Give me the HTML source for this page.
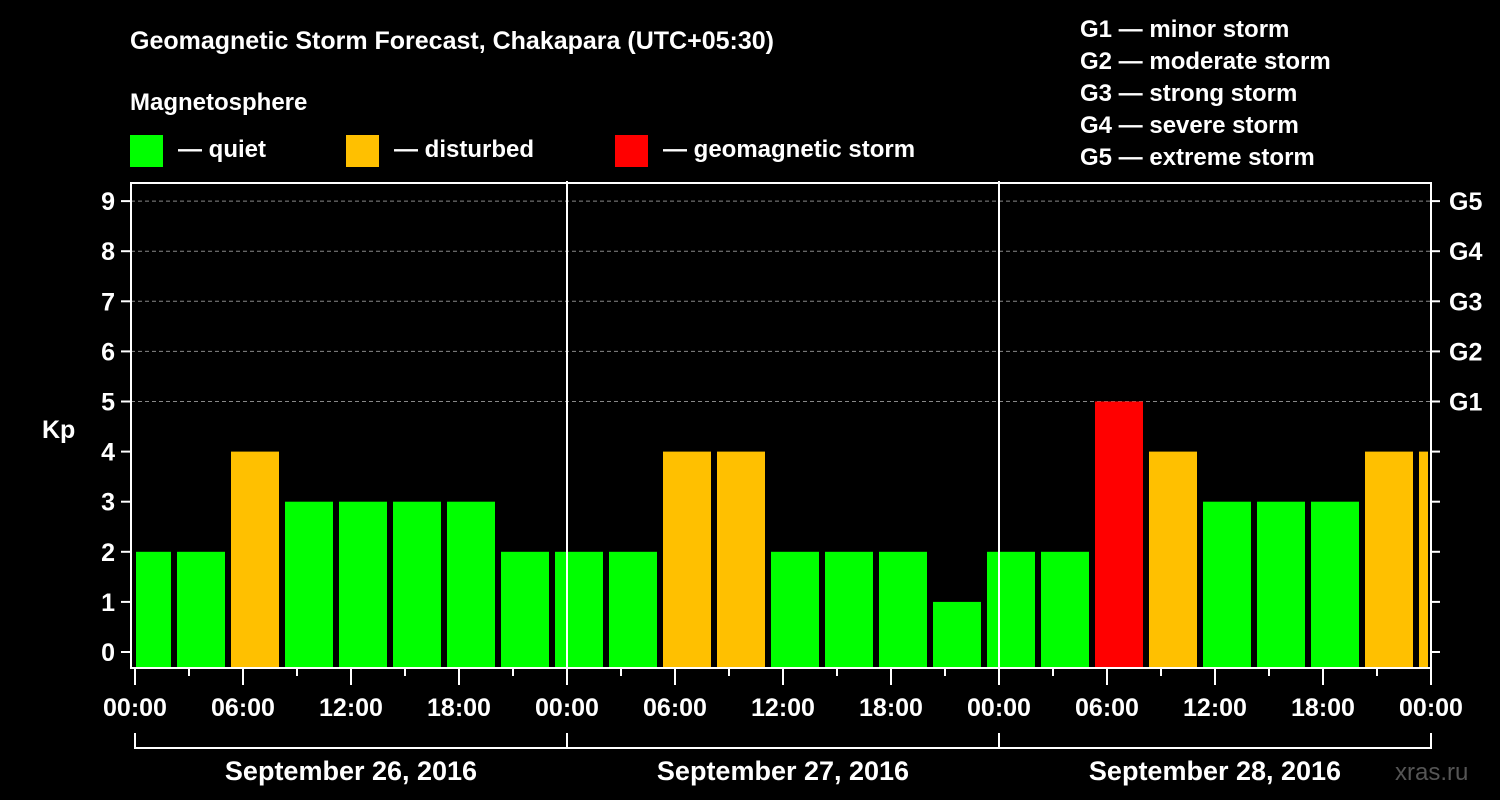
<!DOCTYPE html>
<html><head><meta charset="utf-8"><style>
html,body{margin:0;padding:0;background:#000;}
svg{display:block;font-family:"Liberation Sans",Arial,sans-serif;font-weight:bold;}
</style></head><body>
<svg id="chart" width="1500" height="800" viewBox="0 0 1500 800" xmlns="http://www.w3.org/2000/svg">
<rect width="1500" height="800" fill="#000"/>
<text x="130" y="49" fill="#fff" font-size="25">Geomagnetic Storm Forecast, Chakapara (UTC+05:30)</text>
<text x="130" y="110" fill="#fff" font-size="24">Magnetosphere</text>
<g><rect x="130" y="135" width="33" height="32" fill="#00ff00"/><text x="178" y="157" fill="#fff" font-size="24">— quiet</text></g>
<g><rect x="346" y="135" width="33" height="32" fill="#ffc000"/><text x="394" y="157" fill="#fff" font-size="24">— disturbed</text></g>
<g><rect x="615" y="135" width="33" height="32" fill="#ff0000"/><text x="663" y="157" fill="#fff" font-size="24">— geomagnetic storm</text></g>
<g fill="#fff" font-size="24">
<text x="1080" y="37">G1 — minor storm</text>
<text x="1080" y="69">G2 — moderate storm</text>
<text x="1080" y="101">G3 — strong storm</text>
<text x="1080" y="133">G4 — severe storm</text>
<text x="1080" y="165">G5 — extreme storm</text>
</g>
<text x="42" y="438" fill="#fff" font-size="25">Kp</text>
<g id="grid"></g>
<g id="bars"></g>
<g id="axes"></g>
<text x="1395" y="780" fill="#555" font-size="24" font-weight="normal">xras.ru</text>
</svg>
<script>
const kpValues = [2,2,4,3,3,3,3,2,2,2,4,4,2,2,2,1,2,2,5,4,3,3,3,4,4];
const firstBarHour = -0.8333;
const barStepHours = 3;
const yTicks = [0,1,2,3,4,5,6,7,8,9];
const gLabels = ["G1","G2","G3","G4","G5"];
const xTickLabels = ["00:00","06:00","12:00","18:00","00:00","06:00","12:00","18:00","00:00","06:00","12:00","18:00","00:00"];
const dayLabels = ["September 26, 2016","September 27, 2016","September 28, 2016"];

const NS="http://www.w3.org/2000/svg";
const X0=135, PX_H=18, LEFT=131, RIGHT=1431, TOP=183, BOTTOM=668;
const xs=h=>X0+h*PX_H;
const ys=v=>652-v*50.1;
function mk(parent,tag,attrs){const e=document.createElementNS(NS,tag);for(const k in attrs)e.setAttribute(k,attrs[k]);document.getElementById(parent).appendChild(e);return e;}

// grid lines (only visible above bars 5..9)
yTicks.filter(v=>v>=5).forEach(v=>{
 const l=mk('grid','line',{x1:LEFT,x2:RIGHT,y1:ys(v),y2:ys(v),stroke:'#888','stroke-dasharray':'4,3','stroke-width':1});
 
 
});
// bars
kpValues.forEach((v,i)=>{
 let x1=xs(firstBarHour+i*barStepHours)+3, x2=x1+48;
 x1=Math.max(x1,LEFT+5); x2=Math.min(x2,RIGHT-3);
 const c=v>=5?'#ff0000':(v>=4?'#ffc000':'#00ff00');
 const r=mk('bars','rect',{x:x1,y:ys(v),width:x2-x1,height:BOTTOM-ys(v),fill:c});
 
 
});
// frame & day separators
const f=mk('axes','rect',{x:LEFT,y:TOP,width:RIGHT-LEFT,height:BOTTOM-TOP,fill:'none',stroke:'#fff','stroke-width':2});


[24,48].forEach(h=>{
 const l=mk('axes','line',{x1:xs(h),x2:xs(h),y1:TOP-2,y2:BOTTOM,stroke:'#fff','stroke-width':2});
 
 
});
// y ticks
yTicks.forEach(v=>{
 mk('axes','line',{x1:LEFT-10,x2:LEFT,y1:ys(v),y2:ys(v),stroke:'#fff','stroke-width':2});
 mk('axes','line',{x1:RIGHT,x2:RIGHT+9,y1:ys(v),y2:ys(v),stroke:'#fff','stroke-width':2});
 const t=mk('axes','text',{x:LEFT-16,y:ys(v)+9,fill:'#fff','font-size':25,'text-anchor':'end'});
 t.textContent=v;
 
 
});
gLabels.forEach((g,i)=>{
 const t=mk('axes','text',{x:RIGHT+18,y:ys(5+i)+9,fill:'#fff','font-size':25});
 t.textContent=g;
 
 
});
// x ticks
for(let h=0;h<=72;h+=3){
 const major=h%6===0;
 mk('axes','line',{x1:xs(h),x2:xs(h),y1:BOTTOM,y2:BOTTOM+(major?17:8),stroke:'#fff','stroke-width':2});
}
xTickLabels.forEach((s,i)=>{
 const t=mk('axes','text',{x:xs(i*6),y:716,fill:'#fff','font-size':25,'text-anchor':'middle'});
 t.textContent=s;
 
 
});
// day bracket
mk('axes','line',{x1:xs(0),x2:xs(72),y1:748,y2:748,stroke:'#fff','stroke-width':2});
[0,24,48,72].forEach(h=>mk('axes','line',{x1:xs(h),x2:xs(h),y1:733,y2:749,stroke:'#fff','stroke-width':2}));
dayLabels.forEach((s,i)=>{
 const t=mk('axes','text',{x:xs(i*24+12),y:780,fill:'#fff','font-size':27,'text-anchor':'middle'});
 t.textContent=s;
 
 
});
</script>
</body></html>
